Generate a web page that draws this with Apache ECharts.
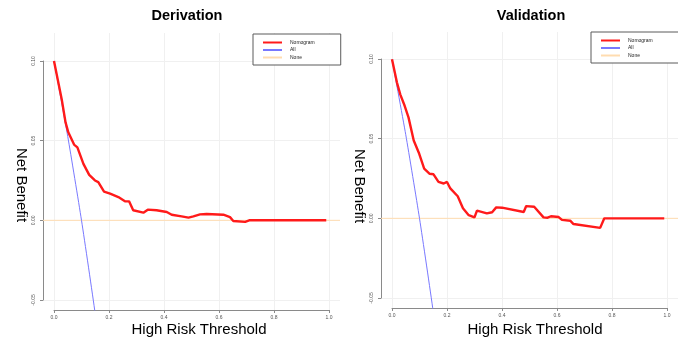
<!DOCTYPE html>
<html><head><meta charset="utf-8">
<script src="https://cdn.jsdelivr.net/npm/echarts@6/dist/echarts.min.js"></script>
<style>html,body{margin:0;padding:0;background:#fff}#c{width:678px;height:341px}</style>
</head><body><div id="c"></div>
<script>
// ---------- data ----------
const seriesNames = ['Nomogram', 'All', 'None'];
const xTickValues = [0, 0.2, 0.4, 0.6, 0.8, 1.0];
const xTickLabels = ['0.0', '0.2', '0.4', '0.6', '0.8', '1.0'];
const yTickValues = [-0.05, 0.00, 0.05, 0.10];
const yTickLabels = ['-0.05', '0.00', '0.05', '0.10'];

const derivThreshold = [0, 0.028, 0.042, 0.052, 0.073, 0.085, 0.107, 0.128, 0.149, 0.161, 0.182, 0.204, 0.234, 0.258, 0.273, 0.288, 0.325, 0.341, 0.373, 0.41, 0.428, 0.464, 0.489, 0.507, 0.531, 0.555, 0.616, 0.64, 0.652, 0.695, 0.71, 0.99];
const derivNomogram  = [0.100, 0.076, 0.0614, 0.0552, 0.0475, 0.0458, 0.0354, 0.0285, 0.025, 0.024, 0.018, 0.0167, 0.0146, 0.012, 0.0119, 0.0063, 0.0048, 0.0067, 0.0063, 0.0052, 0.0035, 0.0025, 0.0017, 0.0025, 0.0037, 0.0040, 0.0035, 0.002, -0.0004, -0.001, 0, 0];

const validThreshold = [0, 0.018, 0.030, 0.046, 0.060, 0.079, 0.099, 0.117, 0.137, 0.151, 0.169, 0.188, 0.200, 0.212, 0.239, 0.258, 0.279, 0.300, 0.309, 0.345, 0.364, 0.370, 0.379, 0.400, 0.479, 0.488, 0.517, 0.551, 0.566, 0.578, 0.606, 0.618, 0.648, 0.660, 0.757, 0.772, 0.99];
const validNomogram  = [0.100, 0.0854, 0.078, 0.0708, 0.0635, 0.049, 0.0406, 0.0312, 0.028, 0.0277, 0.0229, 0.0219, 0.0229, 0.0188, 0.0139, 0.0063, 0.002, 0.0006, 0.0048, 0.0031, 0.0038, 0.0035, 0.0069, 0.0067, 0.004, 0.0077, 0.0073, 0.0006, 0.0004, 0.0013, 0.0008, -0.001, -0.0015, -0.0036, -0.006, 0, 0];

const allThreshold = [0, 0.05, 0.10, 0.15, 0.20];
const allNetBenefit = [0.100, 0.0526, 0.000, -0.0588, -0.125];

const noneThreshold = [-0.04, 1.04];
const noneNetBenefit = [0, 0];

// ---------- helpers ----------
const FONT = 'Liberation Sans, Arial, Helvetica, sans-serif';
const zip = (xs, ys) => xs.map((x, i) => [x, ys[i]]);
const COLORS = { Nomogram: '#ff1a1a', All: '#7878ff', None: '#ffdcb0' };

const panels = [
  { title: 'Derivation', thr: derivThreshold, nom: derivNomogram,
    data: {left: 43, top: 33, width: 297, height: 277}, yr: [-0.05625, 0.1175],
    xg: {left: 54, top: 33, width: 275, height: 277},
    yg: {left: 43, top: 61, width: 297, height: 239},
    titleX: 187, xlabX: 199, ylabX: 21, ylabY: 185,
    legend: {left: 253, top: 34} },
  { title: 'Validation', thr: validThreshold, nom: validNomogram,
    data: {left: 381, top: 32, width: 297, height: 276}, yr: [-0.0564, 0.1172],
    xg: {left: 392, top: 32, width: 275, height: 276},
    yg: {left: 381, top: 59, width: 297, height: 239},
    titleX: 531, xlabX: 535, ylabX: 359, ylabY: 186,
    legend: {left: 591, top: 32} }
];

const grid = [], xAxis = [], yAxis = [], series = [], legend = [], graphic = [];

panels.forEach((p, pi) => {
  const g0 = grid.length;
  grid.push(Object.assign({containLabel: false}, p.data));
  grid.push(Object.assign({containLabel: false}, p.xg));
  grid.push(Object.assign({containLabel: false}, p.yg));

  // data grid axes (hidden)
  xAxis.push({gridIndex: g0, type: 'value', min: -0.04, max: 1.04, show: false});
  yAxis.push({gridIndex: g0, type: 'value', min: p.yr[0], max: p.yr[1], show: false});

  // x axis + vertical grid lines
  xAxis.push({gridIndex: g0 + 1, type: 'value', min: 0, max: 1, interval: 0.2,
    axisLine: {show: true, lineStyle: {color: '#8a8a8a', width: 1}},
    axisTick: {show: true, length: 3, lineStyle: {color: '#8a8a8a'}},
    axisLabel: {fontSize: 5, color: '#555', margin: 5, fontFamily: FONT,
      formatter: v => xTickLabels[xTickValues.findIndex(t => Math.abs(t - v) < 1e-9)] ?? ''},
    splitLine: {show: true, lineStyle: {color: '#f0f0f0', width: 1}}});
  yAxis.push({gridIndex: g0 + 1, type: 'value', min: 0, max: 1, show: false});

  // y axis + horizontal grid lines
  xAxis.push({gridIndex: g0 + 2, type: 'value', min: 0, max: 1, show: false});
  yAxis.push({gridIndex: g0 + 2, type: 'value', min: -0.05, max: 0.10, interval: 0.05,
    axisLine: {show: true, lineStyle: {color: '#8a8a8a', width: 1}},
    axisTick: {show: true, length: 3, lineStyle: {color: '#8a8a8a'}},
    axisLabel: {fontSize: 5, color: '#555', margin: 7, rotate: 90, fontFamily: FONT,
      formatter: v => yTickLabels[yTickValues.findIndex(t => Math.abs(t - v) < 1e-9)] ?? ''},
    splitLine: {show: true, lineStyle: {color: '#f0f0f0', width: 1}}});

  const ax = g0; // data axis index
  series.push({name: 'None', type: 'line', xAxisIndex: ax, yAxisIndex: ax, data: zip(noneThreshold, noneNetBenefit),
    symbol: 'none', lineStyle: {color: COLORS.None, width: 1}, itemStyle: {color: COLORS.None}, silent: true, z: 3});
  series.push({name: 'All', type: 'line', xAxisIndex: ax, yAxisIndex: ax, data: zip(allThreshold, allNetBenefit),
    symbol: 'none', smooth: 0.2, lineStyle: {color: COLORS.All, width: 1}, itemStyle: {color: COLORS.All}, silent: true, z: 4});
  series.push({name: 'Nomogram', type: 'line', xAxisIndex: ax, yAxisIndex: ax, data: zip(p.thr, p.nom),
    symbol: 'none', lineStyle: {color: COLORS.Nomogram, width: 2.4}, itemStyle: {color: COLORS.Nomogram}, silent: true, z: 5});

  legend.push({data: seriesNames, orient: 'vertical', left: p.legend.left, top: p.legend.top,
    padding: [6, 26, 5, 9], itemWidth: 19, itemHeight: 6, itemGap: 2.5,
    borderColor: '#5a5a5a', borderWidth: 1, backgroundColor: '#fff', selectedMode: false,
    itemStyle: {color: 'rgba(0,0,0,0)', borderWidth: 0, opacity: 0},
    textStyle: {fontSize: 5, color: '#222', fontFamily: FONT, padding: [0, 0, 0, 3]}});

  graphic.push({type: 'text', x: p.titleX, y: 16, z: 10,
    style: {text: p.title, font: 'bold 14.5px ' + FONT, fill: '#000', align: 'center', verticalAlign: 'middle'}});
  graphic.push({type: 'text', x: p.xlabX, y: 330, z: 10,
    style: {text: 'High Risk Threshold', font: '15px ' + FONT, fill: '#000', align: 'center', verticalAlign: 'middle'}});
  graphic.push({type: 'text', x: p.ylabX, y: p.ylabY, rotation: -Math.PI / 2, z: 10,
    style: {text: 'Net Benefit', font: '15px ' + FONT, fill: '#000', align: 'center', verticalAlign: 'middle'}});
});

const chart = echarts.init(document.getElementById('c'), null, {renderer: 'canvas'});
chart.setOption({animation: false, backgroundColor: '#fff', grid, xAxis, yAxis, series, legend, graphic});
</script>
</body></html>
